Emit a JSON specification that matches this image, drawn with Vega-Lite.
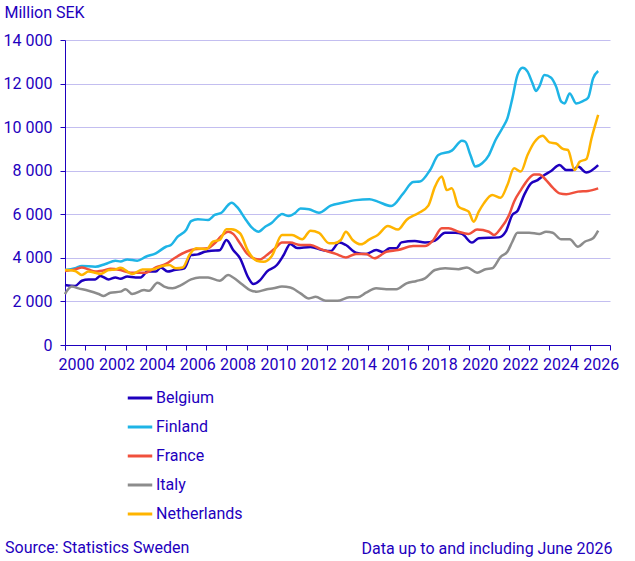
{
  "$schema": "https://vega.github.io/schema/vega-lite/v6.json",
  "width": 545,
  "height": 305,
  "autosize": "none",
  "padding": {"left": 65, "top": 40, "right": 25, "bottom": 216},
  "background": "white",
  "config": {
    "font": "Roboto",
    "view": {"stroke": null},
    "axis": {"labelColor": "#1e00be", "titleColor": "#1e00be", "domainColor": "#1e00be", "tickColor": "#1e00be", "labelFontSize": 16, "titleFontSize": 16, "titleFontWeight": "normal"},
    "legend": {"labelColor": "#1e00be", "labelFontSize": 16},
    "title": {"color": "#1e00be", "fontSize": 16, "fontWeight": "normal"}
  },
  "title": {"text": "Source: Statistics Sweden", "orient": "bottom", "anchor": "start", "frame": "bounds", "offset": -16, "dx": 2},
  "data": {
    "values": [
      {"date": "2000-01-01", "country": "Belgium", "value": 2750},
      {"date": "2000-07-01", "country": "Belgium", "value": 2710},
      {"date": "2000-11-01", "country": "Belgium", "value": 2950},
      {"date": "2001-03-01", "country": "Belgium", "value": 3010},
      {"date": "2001-07-01", "country": "Belgium", "value": 3010},
      {"date": "2001-10-01", "country": "Belgium", "value": 3170},
      {"date": "2002-03-01", "country": "Belgium", "value": 3010},
      {"date": "2002-07-01", "country": "Belgium", "value": 3100},
      {"date": "2002-10-01", "country": "Belgium", "value": 3040},
      {"date": "2003-02-01", "country": "Belgium", "value": 3140},
      {"date": "2003-07-01", "country": "Belgium", "value": 3100},
      {"date": "2003-10-01", "country": "Belgium", "value": 3100},
      {"date": "2004-02-01", "country": "Belgium", "value": 3370},
      {"date": "2004-07-01", "country": "Belgium", "value": 3370},
      {"date": "2004-10-01", "country": "Belgium", "value": 3560},
      {"date": "2005-02-01", "country": "Belgium", "value": 3370},
      {"date": "2005-06-01", "country": "Belgium", "value": 3440},
      {"date": "2005-12-01", "country": "Belgium", "value": 3520},
      {"date": "2006-04-01", "country": "Belgium", "value": 4130},
      {"date": "2006-08-01", "country": "Belgium", "value": 4160},
      {"date": "2006-12-01", "country": "Belgium", "value": 4280},
      {"date": "2007-04-01", "country": "Belgium", "value": 4330},
      {"date": "2007-09-01", "country": "Belgium", "value": 4350},
      {"date": "2008-01-01", "country": "Belgium", "value": 4820},
      {"date": "2008-05-01", "country": "Belgium", "value": 4360},
      {"date": "2008-09-01", "country": "Belgium", "value": 3990},
      {"date": "2009-02-01", "country": "Belgium", "value": 3080},
      {"date": "2009-05-01", "country": "Belgium", "value": 2800},
      {"date": "2009-09-01", "country": "Belgium", "value": 2980},
      {"date": "2010-01-01", "country": "Belgium", "value": 3370},
      {"date": "2010-07-01", "country": "Belgium", "value": 3670},
      {"date": "2010-11-01", "country": "Belgium", "value": 4130},
      {"date": "2011-03-01", "country": "Belgium", "value": 4640},
      {"date": "2011-07-01", "country": "Belgium", "value": 4450},
      {"date": "2012-03-01", "country": "Belgium", "value": 4500},
      {"date": "2012-10-01", "country": "Belgium", "value": 4360},
      {"date": "2013-03-01", "country": "Belgium", "value": 4310},
      {"date": "2013-08-01", "country": "Belgium", "value": 4700},
      {"date": "2013-12-01", "country": "Belgium", "value": 4590},
      {"date": "2014-06-01", "country": "Belgium", "value": 4240},
      {"date": "2014-12-01", "country": "Belgium", "value": 4180},
      {"date": "2015-06-01", "country": "Belgium", "value": 4360},
      {"date": "2015-10-01", "country": "Belgium", "value": 4270},
      {"date": "2016-02-01", "country": "Belgium", "value": 4440},
      {"date": "2016-06-01", "country": "Belgium", "value": 4440},
      {"date": "2016-09-01", "country": "Belgium", "value": 4710},
      {"date": "2017-05-01", "country": "Belgium", "value": 4770},
      {"date": "2017-11-01", "country": "Belgium", "value": 4700},
      {"date": "2018-05-01", "country": "Belgium", "value": 4790},
      {"date": "2018-11-01", "country": "Belgium", "value": 5150},
      {"date": "2019-05-01", "country": "Belgium", "value": 5150},
      {"date": "2019-09-01", "country": "Belgium", "value": 5100},
      {"date": "2020-03-01", "country": "Belgium", "value": 4700},
      {"date": "2020-07-01", "country": "Belgium", "value": 4900},
      {"date": "2021-07-01", "country": "Belgium", "value": 4940},
      {"date": "2021-11-01", "country": "Belgium", "value": 5200},
      {"date": "2022-03-01", "country": "Belgium", "value": 5970},
      {"date": "2022-06-01", "country": "Belgium", "value": 6150},
      {"date": "2022-10-01", "country": "Belgium", "value": 6890},
      {"date": "2023-02-01", "country": "Belgium", "value": 7420},
      {"date": "2023-06-01", "country": "Belgium", "value": 7570},
      {"date": "2023-10-01", "country": "Belgium", "value": 7800},
      {"date": "2024-02-01", "country": "Belgium", "value": 7990},
      {"date": "2024-07-01", "country": "Belgium", "value": 8260},
      {"date": "2024-11-01", "country": "Belgium", "value": 8030},
      {"date": "2025-03-01", "country": "Belgium", "value": 8030},
      {"date": "2025-06-01", "country": "Belgium", "value": 8190},
      {"date": "2025-11-01", "country": "Belgium", "value": 7920},
      {"date": "2026-06-01", "country": "Belgium", "value": 8260},

      {"date": "2000-01-01", "country": "Finland", "value": 3440},
      {"date": "2000-07-01", "country": "Finland", "value": 3520},
      {"date": "2000-11-01", "country": "Finland", "value": 3630},
      {"date": "2001-07-01", "country": "Finland", "value": 3590},
      {"date": "2002-01-01", "country": "Finland", "value": 3720},
      {"date": "2002-07-01", "country": "Finland", "value": 3870},
      {"date": "2002-10-01", "country": "Finland", "value": 3830},
      {"date": "2003-02-01", "country": "Finland", "value": 3930},
      {"date": "2003-08-01", "country": "Finland", "value": 3870},
      {"date": "2004-01-01", "country": "Finland", "value": 4050},
      {"date": "2004-07-01", "country": "Finland", "value": 4210},
      {"date": "2005-01-01", "country": "Finland", "value": 4510},
      {"date": "2005-04-01", "country": "Finland", "value": 4590},
      {"date": "2005-08-01", "country": "Finland", "value": 4970},
      {"date": "2006-01-01", "country": "Finland", "value": 5280},
      {"date": "2006-04-01", "country": "Finland", "value": 5690},
      {"date": "2006-08-01", "country": "Finland", "value": 5770},
      {"date": "2007-02-01", "country": "Finland", "value": 5740},
      {"date": "2007-06-01", "country": "Finland", "value": 5970},
      {"date": "2007-10-01", "country": "Finland", "value": 6070},
      {"date": "2008-02-01", "country": "Finland", "value": 6430},
      {"date": "2008-04-01", "country": "Finland", "value": 6530},
      {"date": "2008-08-01", "country": "Finland", "value": 6270},
      {"date": "2008-12-01", "country": "Finland", "value": 5810},
      {"date": "2009-04-01", "country": "Finland", "value": 5400},
      {"date": "2009-08-01", "country": "Finland", "value": 5200},
      {"date": "2009-12-01", "country": "Finland", "value": 5430},
      {"date": "2010-04-01", "country": "Finland", "value": 5610},
      {"date": "2010-08-01", "country": "Finland", "value": 5920},
      {"date": "2010-10-01", "country": "Finland", "value": 6010},
      {"date": "2011-02-01", "country": "Finland", "value": 5920},
      {"date": "2011-06-01", "country": "Finland", "value": 6070},
      {"date": "2011-09-01", "country": "Finland", "value": 6270},
      {"date": "2012-02-01", "country": "Finland", "value": 6230},
      {"date": "2012-08-01", "country": "Finland", "value": 6070},
      {"date": "2013-03-01", "country": "Finland", "value": 6400},
      {"date": "2013-10-01", "country": "Finland", "value": 6530},
      {"date": "2014-06-01", "country": "Finland", "value": 6650},
      {"date": "2015-02-01", "country": "Finland", "value": 6690},
      {"date": "2015-07-01", "country": "Finland", "value": 6580},
      {"date": "2016-03-01", "country": "Finland", "value": 6380},
      {"date": "2016-10-01", "country": "Finland", "value": 6950},
      {"date": "2017-04-01", "country": "Finland", "value": 7480},
      {"date": "2017-08-01", "country": "Finland", "value": 7500},
      {"date": "2018-02-01", "country": "Finland", "value": 8030},
      {"date": "2018-07-01", "country": "Finland", "value": 8720},
      {"date": "2019-03-01", "country": "Finland", "value": 8920},
      {"date": "2019-09-01", "country": "Finland", "value": 9380},
      {"date": "2019-11-01", "country": "Finland", "value": 9330},
      {"date": "2020-02-01", "country": "Finland", "value": 8720},
      {"date": "2020-05-01", "country": "Finland", "value": 8190},
      {"date": "2020-09-01", "country": "Finland", "value": 8340},
      {"date": "2021-01-01", "country": "Finland", "value": 8720},
      {"date": "2021-05-01", "country": "Finland", "value": 9410},
      {"date": "2021-09-01", "country": "Finland", "value": 9950},
      {"date": "2021-12-01", "country": "Finland", "value": 10400},
      {"date": "2022-03-01", "country": "Finland", "value": 11320},
      {"date": "2022-06-01", "country": "Finland", "value": 12390},
      {"date": "2022-09-01", "country": "Finland", "value": 12730},
      {"date": "2022-12-01", "country": "Finland", "value": 12550},
      {"date": "2023-03-01", "country": "Finland", "value": 12010},
      {"date": "2023-05-01", "country": "Finland", "value": 11660},
      {"date": "2023-07-01", "country": "Finland", "value": 11860},
      {"date": "2023-10-01", "country": "Finland", "value": 12390},
      {"date": "2024-02-01", "country": "Finland", "value": 12270},
      {"date": "2024-05-01", "country": "Finland", "value": 11860},
      {"date": "2024-08-01", "country": "Finland", "value": 11170},
      {"date": "2024-10-01", "country": "Finland", "value": 11090},
      {"date": "2025-01-01", "country": "Finland", "value": 11550},
      {"date": "2025-05-01", "country": "Finland", "value": 11090},
      {"date": "2025-09-01", "country": "Finland", "value": 11200},
      {"date": "2025-12-01", "country": "Finland", "value": 11350},
      {"date": "2026-03-01", "country": "Finland", "value": 12240},
      {"date": "2026-06-01", "country": "Finland", "value": 12580},

      {"date": "2000-01-01", "country": "France", "value": 3400},
      {"date": "2000-07-01", "country": "France", "value": 3470},
      {"date": "2000-11-01", "country": "France", "value": 3560},
      {"date": "2001-03-01", "country": "France", "value": 3470},
      {"date": "2001-07-01", "country": "France", "value": 3370},
      {"date": "2002-01-01", "country": "France", "value": 3440},
      {"date": "2002-04-01", "country": "France", "value": 3500},
      {"date": "2002-10-01", "country": "France", "value": 3440},
      {"date": "2003-04-01", "country": "France", "value": 3320},
      {"date": "2004-01-01", "country": "France", "value": 3320},
      {"date": "2004-07-01", "country": "France", "value": 3560},
      {"date": "2005-01-01", "country": "France", "value": 3720},
      {"date": "2005-06-01", "country": "France", "value": 3980},
      {"date": "2006-01-01", "country": "France", "value": 4280},
      {"date": "2006-06-01", "country": "France", "value": 4400},
      {"date": "2007-02-01", "country": "France", "value": 4440},
      {"date": "2007-06-01", "country": "France", "value": 4670},
      {"date": "2007-10-01", "country": "France", "value": 5000},
      {"date": "2008-02-01", "country": "France", "value": 5200},
      {"date": "2008-05-01", "country": "France", "value": 5100},
      {"date": "2008-09-01", "country": "France", "value": 4670},
      {"date": "2009-01-01", "country": "France", "value": 4210},
      {"date": "2009-05-01", "country": "France", "value": 3980},
      {"date": "2009-09-01", "country": "France", "value": 3930},
      {"date": "2010-01-01", "country": "France", "value": 4130},
      {"date": "2010-06-01", "country": "France", "value": 4440},
      {"date": "2010-10-01", "country": "France", "value": 4700},
      {"date": "2011-03-01", "country": "France", "value": 4700},
      {"date": "2011-09-01", "country": "France", "value": 4590},
      {"date": "2012-03-01", "country": "France", "value": 4590},
      {"date": "2012-09-01", "country": "France", "value": 4400},
      {"date": "2013-06-01", "country": "France", "value": 4180},
      {"date": "2013-12-01", "country": "France", "value": 4020},
      {"date": "2014-06-01", "country": "France", "value": 4180},
      {"date": "2014-12-01", "country": "France", "value": 4180},
      {"date": "2015-05-01", "country": "France", "value": 3980},
      {"date": "2015-12-01", "country": "France", "value": 4280},
      {"date": "2016-07-01", "country": "France", "value": 4360},
      {"date": "2017-04-01", "country": "France", "value": 4540},
      {"date": "2017-11-01", "country": "France", "value": 4540},
      {"date": "2018-04-01", "country": "France", "value": 4820},
      {"date": "2018-09-01", "country": "France", "value": 5360},
      {"date": "2019-01-01", "country": "France", "value": 5360},
      {"date": "2019-07-01", "country": "France", "value": 5200},
      {"date": "2020-01-01", "country": "France", "value": 5100},
      {"date": "2020-06-01", "country": "France", "value": 5300},
      {"date": "2021-01-01", "country": "France", "value": 5200},
      {"date": "2021-04-01", "country": "France", "value": 5050},
      {"date": "2021-08-01", "country": "France", "value": 5350},
      {"date": "2022-01-01", "country": "France", "value": 5970},
      {"date": "2022-04-01", "country": "France", "value": 6580},
      {"date": "2022-08-01", "country": "France", "value": 7110},
      {"date": "2022-12-01", "country": "France", "value": 7570},
      {"date": "2023-04-01", "country": "France", "value": 7830},
      {"date": "2023-07-01", "country": "France", "value": 7830},
      {"date": "2023-11-01", "country": "France", "value": 7570},
      {"date": "2024-03-01", "country": "France", "value": 7220},
      {"date": "2024-07-01", "country": "France", "value": 6960},
      {"date": "2024-11-01", "country": "France", "value": 6920},
      {"date": "2025-06-01", "country": "France", "value": 7040},
      {"date": "2025-12-01", "country": "France", "value": 7070},
      {"date": "2026-06-01", "country": "France", "value": 7190},

      {"date": "2000-01-01", "country": "Italy", "value": 2340},
      {"date": "2000-05-01", "country": "Italy", "value": 2680},
      {"date": "2000-09-01", "country": "Italy", "value": 2600},
      {"date": "2001-03-01", "country": "Italy", "value": 2490},
      {"date": "2001-09-01", "country": "Italy", "value": 2340},
      {"date": "2001-12-01", "country": "Italy", "value": 2250},
      {"date": "2002-04-01", "country": "Italy", "value": 2400},
      {"date": "2002-10-01", "country": "Italy", "value": 2450},
      {"date": "2003-01-01", "country": "Italy", "value": 2560},
      {"date": "2003-05-01", "country": "Italy", "value": 2340},
      {"date": "2003-12-01", "country": "Italy", "value": 2520},
      {"date": "2004-03-01", "country": "Italy", "value": 2490},
      {"date": "2004-08-01", "country": "Italy", "value": 2860},
      {"date": "2004-12-01", "country": "Italy", "value": 2680},
      {"date": "2005-05-01", "country": "Italy", "value": 2600},
      {"date": "2005-10-01", "country": "Italy", "value": 2750},
      {"date": "2006-04-01", "country": "Italy", "value": 3010},
      {"date": "2006-09-01", "country": "Italy", "value": 3100},
      {"date": "2007-02-01", "country": "Italy", "value": 3100},
      {"date": "2007-09-01", "country": "Italy", "value": 2950},
      {"date": "2008-02-01", "country": "Italy", "value": 3210},
      {"date": "2008-05-01", "country": "Italy", "value": 3100},
      {"date": "2008-10-01", "country": "Italy", "value": 2800},
      {"date": "2009-03-01", "country": "Italy", "value": 2520},
      {"date": "2009-07-01", "country": "Italy", "value": 2450},
      {"date": "2010-01-01", "country": "Italy", "value": 2560},
      {"date": "2010-05-01", "country": "Italy", "value": 2600},
      {"date": "2010-10-01", "country": "Italy", "value": 2680},
      {"date": "2011-03-01", "country": "Italy", "value": 2640},
      {"date": "2011-09-01", "country": "Italy", "value": 2370},
      {"date": "2012-02-01", "country": "Italy", "value": 2140},
      {"date": "2012-06-01", "country": "Italy", "value": 2210},
      {"date": "2012-12-01", "country": "Italy", "value": 2030},
      {"date": "2013-07-01", "country": "Italy", "value": 2030},
      {"date": "2014-02-01", "country": "Italy", "value": 2190},
      {"date": "2014-07-01", "country": "Italy", "value": 2190},
      {"date": "2014-12-01", "country": "Italy", "value": 2400},
      {"date": "2015-06-01", "country": "Italy", "value": 2600},
      {"date": "2015-12-01", "country": "Italy", "value": 2560},
      {"date": "2016-06-01", "country": "Italy", "value": 2560},
      {"date": "2016-12-01", "country": "Italy", "value": 2830},
      {"date": "2017-06-01", "country": "Italy", "value": 2940},
      {"date": "2017-11-01", "country": "Italy", "value": 3060},
      {"date": "2018-05-01", "country": "Italy", "value": 3440},
      {"date": "2018-11-01", "country": "Italy", "value": 3520},
      {"date": "2019-07-01", "country": "Italy", "value": 3480},
      {"date": "2019-12-01", "country": "Italy", "value": 3560},
      {"date": "2020-06-01", "country": "Italy", "value": 3320},
      {"date": "2020-11-01", "country": "Italy", "value": 3480},
      {"date": "2021-03-01", "country": "Italy", "value": 3520},
      {"date": "2021-08-01", "country": "Italy", "value": 4050},
      {"date": "2021-12-01", "country": "Italy", "value": 4280},
      {"date": "2022-03-01", "country": "Italy", "value": 4740},
      {"date": "2022-06-01", "country": "Italy", "value": 5150},
      {"date": "2023-01-01", "country": "Italy", "value": 5150},
      {"date": "2023-07-01", "country": "Italy", "value": 5100},
      {"date": "2023-11-01", "country": "Italy", "value": 5200},
      {"date": "2024-03-01", "country": "Italy", "value": 5150},
      {"date": "2024-08-01", "country": "Italy", "value": 4850},
      {"date": "2025-01-01", "country": "Italy", "value": 4850},
      {"date": "2025-06-01", "country": "Italy", "value": 4510},
      {"date": "2025-10-01", "country": "Italy", "value": 4740},
      {"date": "2026-03-01", "country": "Italy", "value": 4900},
      {"date": "2026-06-01", "country": "Italy", "value": 5250},

      {"date": "2000-01-01", "country": "Netherlands", "value": 3440},
      {"date": "2000-07-01", "country": "Netherlands", "value": 3400},
      {"date": "2000-11-01", "country": "Netherlands", "value": 3210},
      {"date": "2001-03-01", "country": "Netherlands", "value": 3370},
      {"date": "2001-07-01", "country": "Netherlands", "value": 3320},
      {"date": "2001-10-01", "country": "Netherlands", "value": 3260},
      {"date": "2002-03-01", "country": "Netherlands", "value": 3440},
      {"date": "2002-07-01", "country": "Netherlands", "value": 3470},
      {"date": "2002-10-01", "country": "Netherlands", "value": 3550},
      {"date": "2003-05-01", "country": "Netherlands", "value": 3260},
      {"date": "2003-11-01", "country": "Netherlands", "value": 3470},
      {"date": "2004-05-01", "country": "Netherlands", "value": 3470},
      {"date": "2004-11-01", "country": "Netherlands", "value": 3630},
      {"date": "2005-03-01", "country": "Netherlands", "value": 3670},
      {"date": "2005-07-01", "country": "Netherlands", "value": 3520},
      {"date": "2005-11-01", "country": "Netherlands", "value": 3560},
      {"date": "2006-03-01", "country": "Netherlands", "value": 4130},
      {"date": "2006-07-01", "country": "Netherlands", "value": 4440},
      {"date": "2007-01-01", "country": "Netherlands", "value": 4400},
      {"date": "2007-05-01", "country": "Netherlands", "value": 4740},
      {"date": "2007-09-01", "country": "Netherlands", "value": 4820},
      {"date": "2008-01-01", "country": "Netherlands", "value": 5310},
      {"date": "2008-04-01", "country": "Netherlands", "value": 5310},
      {"date": "2008-09-01", "country": "Netherlands", "value": 5130},
      {"date": "2009-02-01", "country": "Netherlands", "value": 4280},
      {"date": "2009-07-01", "country": "Netherlands", "value": 3870},
      {"date": "2009-11-01", "country": "Netherlands", "value": 3820},
      {"date": "2010-04-01", "country": "Netherlands", "value": 4090},
      {"date": "2010-10-01", "country": "Netherlands", "value": 5050},
      {"date": "2011-04-01", "country": "Netherlands", "value": 5050},
      {"date": "2011-10-01", "country": "Netherlands", "value": 4850},
      {"date": "2012-03-01", "country": "Netherlands", "value": 5250},
      {"date": "2012-08-01", "country": "Netherlands", "value": 5150},
      {"date": "2013-02-01", "country": "Netherlands", "value": 4670},
      {"date": "2013-05-01", "country": "Netherlands", "value": 4670},
      {"date": "2013-09-01", "country": "Netherlands", "value": 4820},
      {"date": "2013-12-01", "country": "Netherlands", "value": 5200},
      {"date": "2014-04-01", "country": "Netherlands", "value": 4820},
      {"date": "2014-09-01", "country": "Netherlands", "value": 4620},
      {"date": "2015-02-01", "country": "Netherlands", "value": 4850},
      {"date": "2015-07-01", "country": "Netherlands", "value": 5050},
      {"date": "2016-01-01", "country": "Netherlands", "value": 5460},
      {"date": "2016-07-01", "country": "Netherlands", "value": 5300},
      {"date": "2016-12-01", "country": "Netherlands", "value": 5740},
      {"date": "2017-07-01", "country": "Netherlands", "value": 6050},
      {"date": "2018-01-01", "country": "Netherlands", "value": 6400},
      {"date": "2018-05-01", "country": "Netherlands", "value": 7270},
      {"date": "2018-09-01", "country": "Netherlands", "value": 7730},
      {"date": "2018-12-01", "country": "Netherlands", "value": 7110},
      {"date": "2019-03-01", "country": "Netherlands", "value": 7190},
      {"date": "2019-07-01", "country": "Netherlands", "value": 6350},
      {"date": "2019-11-01", "country": "Netherlands", "value": 6200},
      {"date": "2020-01-01", "country": "Netherlands", "value": 6120},
      {"date": "2020-04-01", "country": "Netherlands", "value": 5660},
      {"date": "2020-07-01", "country": "Netherlands", "value": 6120},
      {"date": "2020-10-01", "country": "Netherlands", "value": 6500},
      {"date": "2021-03-01", "country": "Netherlands", "value": 6890},
      {"date": "2021-08-01", "country": "Netherlands", "value": 6760},
      {"date": "2021-12-01", "country": "Netherlands", "value": 7340},
      {"date": "2022-04-01", "country": "Netherlands", "value": 8110},
      {"date": "2022-08-01", "country": "Netherlands", "value": 7960},
      {"date": "2022-12-01", "country": "Netherlands", "value": 8720},
      {"date": "2023-04-01", "country": "Netherlands", "value": 9300},
      {"date": "2023-09-01", "country": "Netherlands", "value": 9610},
      {"date": "2024-01-01", "country": "Netherlands", "value": 9300},
      {"date": "2024-05-01", "country": "Netherlands", "value": 9250},
      {"date": "2024-09-01", "country": "Netherlands", "value": 9000},
      {"date": "2024-12-01", "country": "Netherlands", "value": 8950},
      {"date": "2025-04-01", "country": "Netherlands", "value": 8030},
      {"date": "2025-07-01", "country": "Netherlands", "value": 8410},
      {"date": "2025-11-01", "country": "Netherlands", "value": 8540},
      {"date": "2026-02-01", "country": "Netherlands", "value": 9490},
      {"date": "2026-06-01", "country": "Netherlands", "value": 10560}
    ]
  },
  "mark": {"type": "line", "strokeWidth": 2.5, "interpolate": "monotone"},
  "encoding": {
    "x": {
      "field": "date",
      "type": "temporal",
      "scale": {"domain": ["2000-01-01", "2027-01-01"]},
      "axis": {
        "title": "Data up to and including  June 2026",
        "titleAnchor": "end",
        "titleAlign": "right",
        "titleBaseline": "middle",
        "titleX": 547,
        "titleY": 203,
        "tickCount": {"interval": "year", "step": 1},
        "labelExpr": "year(datum.value) % 2 === 0 ? timeFormat(datum.value, '%Y') : ''",
        "labelOverlap": false,
        "labelFlush": false,
        "labelOffset": 11,
        "labelPadding": 6,
        "tickSize": 5,
        "grid": false
      }
    },
    "y": {
      "field": "value",
      "type": "quantitative",
      "scale": {"domain": [0, 14000]},
      "axis": {
        "title": "Million SEK",
        "titleAngle": 0,
        "titleAlign": "left",
        "titleBaseline": "top",
        "titleX": -61,
        "titleY": -36,
        "values": [0, 2000, 4000, 6000, 8000, 10000, 12000, 14000],
        "labelExpr": "replace(format(datum.value, ',d'), ',', ' ')",
        "labelFlush": false,
        "tickSize": 5,
        "labelPadding": 8,
        "gridColor": "#c3bef0",
        "gridOpacity": 1
      }
    },
    "color": {
      "field": "country",
      "type": "nominal",
      "scale": {
        "domain": ["Belgium", "Finland", "France", "Italy", "Netherlands"],
        "range": ["#1e00be", "#1eb4e6", "#f0503c", "#8c8c8c", "#ffb400"]
      },
      "legend": {
        "title": null,
        "orient": "none",
        "legendX": 61,
        "legendY": 344,
        "direction": "vertical",
        "symbolType": "stroke",
        "symbolSize": 600,
        "symbolStrokeWidth": 3,
        "rowPadding": 7,
        "labelOffset": 2,
        "padding": 0
      }
    }
  }
}
